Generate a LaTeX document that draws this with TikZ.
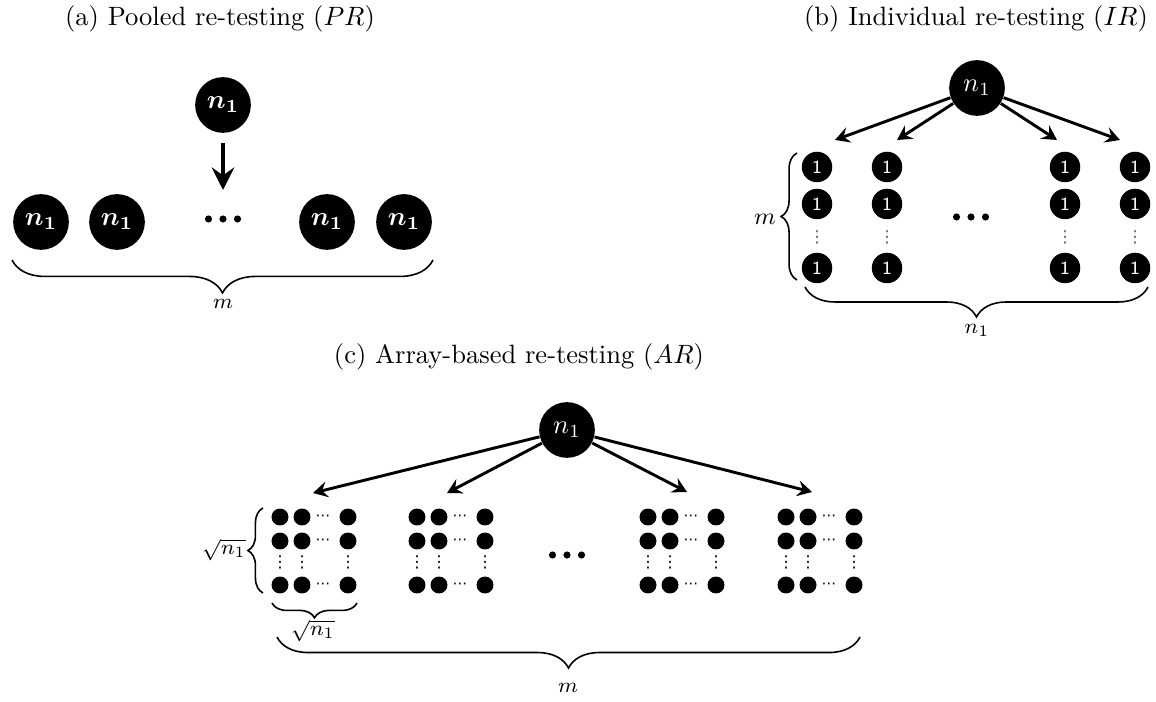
\documentclass[tikz,border=0pt]{standalone}
\usepackage{amsmath}
\usepackage{fontspec}
\newfontfamily\djv{DejaVu Sans}
\usetikzlibrary{arrows.meta,decorations.pathreplacing}
\begin{document}
\begin{tikzpicture}[x=0.377pt,y=-0.377pt,
  bignode/.style={circle,fill=black,minimum size=21pt,inner sep=0pt,text=white},
  onenode/.style={circle,fill=black,minimum size=11.5pt,inner sep=0pt,text=white,font=\scriptsize\sffamily},
  dotnode/.style={circle,fill=black,minimum size=6.4pt,inner sep=0pt},
  title/.style={font=\normalsize},
  lab/.style={font=\footnotesize},
  vdotsnode/.style={font=\djv\fontsize{6.2}{7}\selectfont,inner sep=0pt},
  hdotsnode/.style={font=\djv\fontsize{5.5}{6}\selectfont,inner sep=0pt},
  arrA/.style={line width=1.5pt,-{Stealth[length=8.5pt,width=8.5pt,inset=3pt]}},
  arrB/.style={line width=1.1pt,-{Stealth[length=5.5pt,width=6pt,inset=2pt]}},
  bracea/.style={decorate,decoration={brace,amplitude=#1},semithick},
]
\useasboundingbox (0,0) rectangle (1156,702);

% ---------------- (a)
\node[title] (ta) at (220,19) {(a) Pooled re-testing ($PR$)};
\node[bignode] (atop) at (223,105) {$\boldsymbol{n_1}$};
\coordinate (atip) at (223,190);
\draw[arrA,shorten <=3.8pt] (atop) -- (atip);
\node[bignode] (a1) at (41,222) {$\boldsymbol{n_1}$};
\node[bignode] (a2) at (117,222) {$\boldsymbol{n_1}$};
\node[bignode] (a3) at (327,222) {$\boldsymbol{n_1}$};
\node[bignode] (a4) at (404,222) {$\boldsymbol{n_1}$};
\foreach \d in {-1,0,1} \fill (223+\d*14.5,219) circle[radius=1.35pt];
\coordinate (abl) at (12,260);
\coordinate (abr) at (433,260);
\draw[bracea=12.4pt] (abr) -- (abl);
\node[lab] (am) at (223,304) {$m$};

% ---------------- (b)
\node[title] (tb) at (976,19) {(b) Individual re-testing ($IR$)};
\node[bignode] (btop) at (977,88) {$n_1$};
\foreach \x/\n in {817/1,887/2,1065/3,1135/4}{
  \node[onenode] (b\n r1) at (\x,167) {1};
  \node[onenode] (b\n r2) at (\x,204) {1};
  \node[vdotsnode,text=black!65] (b\n v) at (\x,237) {⋮};
  \node[onenode] (b\n r3) at (\x,268) {1};
}
\coordinate (bt1) at (835,140);
\coordinate (bt2) at (897,140);
\coordinate (bt3) at (1057,140);
\coordinate (bt4) at (1120,140);
\foreach \n in {1,2,3,4} \draw[arrB] (btop) -- (bt\n);
\foreach \d in {-1,0,1} \fill (971+\d*14.5,217) circle[radius=1.35pt];
\coordinate (bll) at (797,280);
\coordinate (blu) at (797,153);
\draw[bracea=6pt] (bll) -- (blu);
\node[font=\small] (bm) at (765,219) {$m$};
\coordinate (bbl) at (805,287);
\coordinate (bbr) at (1148,287);
\draw[bracea=11.3pt] (bbr) -- (bbl);
\node[lab] (bn) at (977,330) {$n_1$};

% ---------------- (c)
\node[title] (tc) at (519,357) {(c) Array-based re-testing ($AR$)};
\node[bignode] (ctop) at (567,430) {$n_1$};
\foreach \x/\n in {280/1,417/2,648/3,786/4}{
  \foreach \y/\r in {517/1,541/2,585/3}{
    \node[dotnode] (c\n a\r) at (\x,\y) {};
    \node[dotnode] (c\n b\r) at (\x+22,\y) {};
    \node[dotnode] (c\n c\r) at (\x+68,\y) {};
    \node[hdotsnode] (c\n d\r) at (\x+43,\y+1) {⋯};
  }
  \node[vdotsnode] (c\n va) at (\x,562) {⋮};
  \node[vdotsnode] (c\n vb) at (\x+22,562) {⋮};
  \node[vdotsnode] (c\n vc) at (\x+68,562) {⋮};
}
\coordinate (ct1) at (313,493);
\coordinate (ct2) at (447,493);
\coordinate (ct3) at (687,492);
\coordinate (ct4) at (812,492);
\foreach \n in {1,2,3,4} \draw[arrB] (ctop) -- (ct\n);
\foreach \d in {-1,0,1} \fill (567+\d*14.5,555) circle[radius=1.35pt];
\coordinate (cll) at (263,593);
\coordinate (clu) at (263,508);
\draw[bracea=5.7pt] (cll) -- (clu);
\node[lab] (cs1) at (224,550) {$\sqrt{n_1}$};
\coordinate (csl) at (272,603);
\coordinate (csr) at (357,603);
\draw[bracea=5.6pt] (csr) -- (csl);
\node[lab] (cs2) at (313,631) {$\sqrt{n_1}$};
\coordinate (cbl) at (277,637);
\coordinate (cbr) at (860,637);
\draw[bracea=11.7pt] (cbr) -- (cbl);
\node[lab] (cm) at (568,688) {$m$};
\end{tikzpicture}
\end{document}
